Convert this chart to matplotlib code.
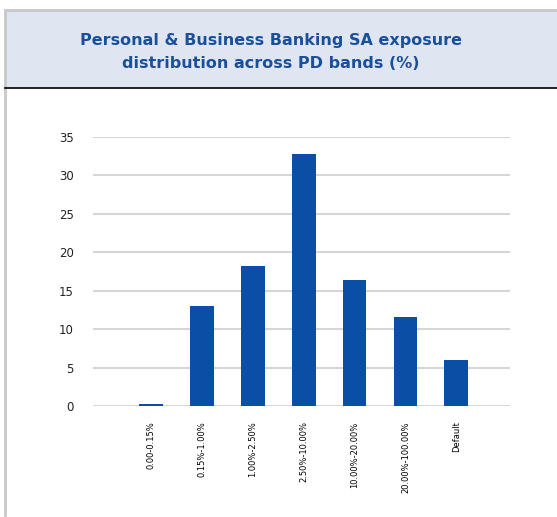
import matplotlib.pyplot as plt
from matplotlib.patches import Rectangle
from matplotlib.lines import Line2D

# PD bands and share of exposure (%)
bandas = ['0.00-0.15%', '0.15%-1.00%', '1.00%-2.50%', '2.50%-10.00%',
          '10.00%-20.00%', '20.00%-100.00%', 'Default']
exposicion = [0.2, 13.0, 18.2, 32.8, 16.4, 11.6, 6.0]
ticks_y = [0, 5, 10, 15, 20, 25, 30, 35]

azul_barra = '#0a4ea6'
azul_titulo = '#1a4f9c'

fig = plt.figure(figsize=(5.57, 5.17), dpi=100)
fig.patch.set_facecolor('white')

# Marco y banda del titulo
fig.add_artist(Rectangle((5/557, 1 - 88/517), 560/557, 78/517, transform=fig.transFigure,
                         facecolor='#dfe6f1', edgecolor='none', zorder=0))
fig.add_artist(Line2D([5/557, 1], [1 - 10/517] * 2, transform=fig.transFigure,
                      color='#c8c8c8', lw=2))
fig.add_artist(Line2D([5/557] * 2, [1 - 10/517, 2/517], transform=fig.transFigure,
                      color='#c8c8c8', lw=2))
fig.add_artist(Line2D([5/557, 1], [1 - 88/517] * 2, transform=fig.transFigure,
                      color='black', lw=1.2))

fig.text(271/557, 1 - 52/517, 'Personal & Business Banking SA exposure\ndistribution across PD bands (%)',
         ha='center', va='center', fontsize=11.5, fontweight='bold', color=azul_titulo,
         linespacing=1.65)

ax = fig.add_axes([93/557, 1 - 406/517, 417/557, 269/517])
x = range(len(bandas))
ax.bar(x, exposicion, width=0.47, color=azul_barra, zorder=3)

ax.set_ylim(0, 35)
ax.set_xlim(-1.13, 7.05)
ax.set_yticks(ticks_y)
ax.set_yticklabels([str(t) for t in ticks_y], fontsize=8.5, color='#222222')
ax.set_xticks(list(x))
ax.set_xticklabels(bandas, rotation=90, fontsize=6, color='black')
ax.grid(axis='y', color='#d6d6d6', lw=1.5, zorder=0)
ax.tick_params(axis='both', length=0)
ax.tick_params(axis='y', pad=14)
ax.tick_params(axis='x', pad=11)
for s in ax.spines.values():
    s.set_visible(False)

fig.savefig('out.png', dpi=100)
